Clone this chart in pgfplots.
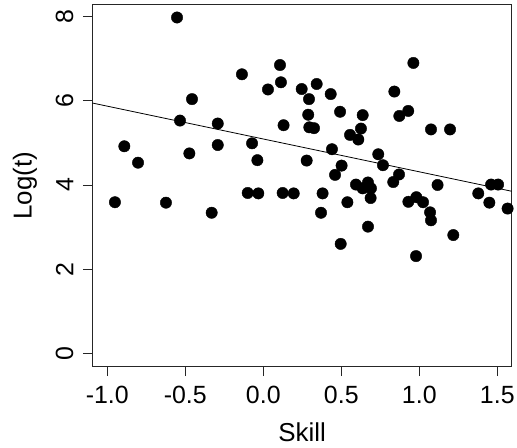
\documentclass[border=0pt]{standalone}
\usepackage{pgfplots}
\pgfplotsset{compat=1.18}
\usepackage{fontspec}
\setmainfont{Liberation Sans}
\begin{document}
\begin{tikzpicture}
\useasboundingbox (-92.5bp,-81.3bp) rectangle (424.5bp,366.7bp);
\begin{axis}[
  at={(0,0)}, anchor=south west,
  scale only axis, width=419.2bp, height=362bp,
  xmin=-1.0949, xmax=1.5923, ymin=-0.318, ymax=8.284,
  axis line style={line width=0.8bp, black!85},
  xtick={-1,-0.5,0,0.5,1,1.5},
  xticklabels={-1.0,-0.5,0.0,0.5,1.0,1.5},
  ytick={0,2,4,6,8},
  yticklabels={0,2,4,6,8},
  tick align=outside,
  xtick pos=bottom, ytick pos=left,
  major tick length=9.5bp,
  tick style={line width=0.8bp, black!85},
  ticklabel style={font=\fontsize{25}{28}\selectfont, inner sep=0pt},
  xticklabel style={anchor=north, yshift=-10bp},
  yticklabel style={rotate=90, anchor=south, yshift=9.5bp},
  xlabel={Skill}, ylabel={Log(t)},
  label style={font=\fontsize{26}{30}\selectfont, inner sep=0pt},
  xlabel style={at={(axis description cs:0.5,0)}, anchor=base, yshift=-75bp},
  ylabel style={at={(axis description cs:0,0.5)}, anchor=base, yshift=60.8bp},
  clip=true,
]
\addplot[only marks, mark=*, mark size=5.7bp, black, mark options={fill=black, draw=black}] coordinates {
(-0.951,3.59) (-0.891,4.92) (-0.803,4.53) (-0.624,3.58) (-0.553,7.98)
(-0.534,5.53) (-0.474,4.75) (-0.457,6.04) (-0.331,3.34) (-0.292,5.46)
(-0.292,4.95) (-0.137,6.63) (-0.100,3.81) (-0.072,4.99) (-0.038,4.59)
(-0.032,3.80) (0.030,6.27) (0.107,6.85) (0.113,6.44) (0.124,3.81)
(0.130,5.42) (0.195,3.80) (0.246,6.28) (0.278,4.58) (0.288,5.67)
(0.293,6.04) (0.295,5.37) (0.325,5.35) (0.342,6.40) (0.370,3.34)
(0.380,3.80) (0.432,6.16) (0.440,4.85) (0.460,4.24) (0.492,5.74)
(0.496,2.60) (0.502,4.46) (0.539,3.59) (0.556,5.19) (0.594,4.01)
(0.609,5.08) (0.626,5.34) (0.637,5.66) (0.637,3.92) (0.671,4.06)
(0.671,3.01) (0.690,3.92) (0.688,3.69) (0.737,4.73) (0.767,4.47)
(0.833,4.07) (0.840,6.22) (0.870,4.25) (0.872,5.64) (0.929,5.76)
(0.930,3.60) (0.962,6.90) (0.981,3.71) (0.979,2.31) (1.024,3.59)
(1.069,3.35) (1.075,3.16) (1.075,5.32) (1.117,4.00) (1.197,5.32)
(1.218,2.81) (1.378,3.80) (1.449,3.58) (1.460,4.01) (1.505,4.01)
(1.566,3.44) (1.625,3.17)
};
\addplot[black, line width=0.8bp] coordinates {(-1.0949,5.947) (1.5923,3.851)};
\end{axis}
\end{tikzpicture}
\end{document}
